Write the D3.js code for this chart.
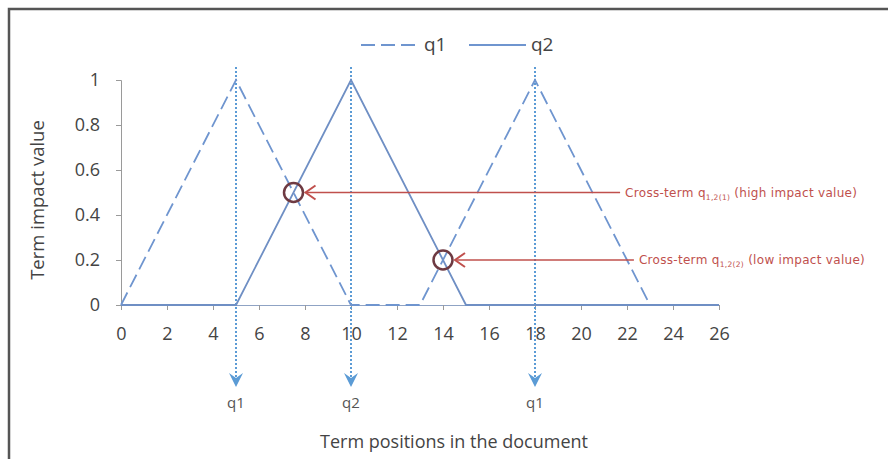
<!DOCTYPE html>
<html>
<head>
<meta charset="utf-8">
<script src="https://cdn.jsdelivr.net/npm/d3@7"></script>
<style>
  body { margin: 0; background: #fff; }
  svg { display: block; font-family: "Open Sans", sans-serif; }
</style>
</head>
<body>
<div id="chart"></div>
<script>
// data
var q1X = [0, 5, 10, 13, 18, 23];
var q1Y = [0, 1, 0, 0, 1, 0];
var q2X = [0, 5, 10, 15, 26];
var q2Y = [0, 0, 1, 0, 0];
var markerPos = [5, 10, 18];
var markerLabels = ["q1", "q2", "q1"];
var crossX = [7.5, 14];
var crossY = [0.5, 0.2];
var crossSub = ["1,2(1)", "1,2(2)"];
var crossNote = ["(high impact value)", "(low impact value)"];
var crossEnd = [21.7, 22.3];
var xTicks = d3.range(0, 27, 2);
var yTicks = [0, 0.2, 0.4, 0.6, 0.8, 1];

var W = 888, H = 459;
var margin = {top: 80, left: 121};
var width = 598, height = 225;
var txt = "#444";

var svg = d3.select("#chart").append("svg")
    .attr("width", W)
    .attr("height", H);

svg.append("rect")
    .attr("x", 9).attr("y", 9)
    .attr("width", 900).attr("height", 480)
    .attr("fill", "#fff")
    .attr("stroke", "#555")
    .attr("stroke-width", 2.5);

var g = svg.append("g")
    .attr("transform", "translate(" + margin.left + "," + margin.top + ")");

var x = d3.scaleLinear().domain([0, 26]).range([0, width]);
var y = d3.scaleLinear().domain([0, 1]).range([height, 0]);

// axes
var yAxis = g.append("g")
    .call(d3.axisLeft(y).tickValues(yTicks).tickSize(5).tickPadding(16)
        .tickFormat(function(d) { return String(+d.toFixed(1)); }));
yAxis.select(".domain").attr("stroke", "#9a9a9a");
yAxis.selectAll(".tick line").attr("stroke", "#9a9a9a");
yAxis.selectAll("text").attr("font-size", 18).attr("fill", txt)
    .attr("font-family", "'Open Sans', sans-serif");

var xAxis = g.append("g")
    .attr("transform", "translate(0," + height + ")")
    .call(d3.axisBottom(x).tickValues(xTicks).tickSize(5).tickPadding(17));
xAxis.select(".domain").attr("stroke", "#8fa3c4");
xAxis.selectAll(".tick line").attr("stroke", "#9a9a9a");
xAxis.selectAll("text").attr("font-size", 18).attr("fill", txt)
    .attr("font-family", "'Open Sans', sans-serif");

// dotted markers
markerPos.forEach(function(p, i) {
    g.append("line")
        .attr("x1", x(p)).attr("x2", x(p))
        .attr("y1", -13).attr("y2", 302)
        .attr("stroke", "#5b9bd5")
        .attr("stroke-width", 2)
        .attr("stroke-dasharray", "2,2");
    g.append("path")
        .attr("d", "M" + (x(p) - 7) + ",293 L" + x(p) + ",307 L" + (x(p) + 7) + ",293 L" + x(p) + ",298 Z")
        .attr("fill", "#5b9bd5");
    g.append("text")
        .attr("x", x(p)).attr("y", 328)
        .attr("text-anchor", "middle")
        .attr("font-size", 15)
        .attr("fill", "#555")
        .text(markerLabels[i]);
});

var line = d3.line()
    .x(function(d) { return x(d[0]); })
    .y(function(d) { return y(d[1]); });

g.append("path")
    .datum(d3.zip(q2X, q2Y))
    .attr("d", line)
    .attr("fill", "none")
    .attr("stroke", "#6f8fc4")
    .attr("stroke-width", 1.8);

g.append("path")
    .datum(d3.zip(q1X, q1Y))
    .attr("d", line)
    .attr("fill", "none")
    .attr("stroke", "#6f95cf")
    .attr("stroke-width", 1.8)
    .attr("stroke-dasharray", "14,6");

// cross-term annotations
crossX.forEach(function(cx, i) {
    var px = x(cx), py = y(crossY[i]);
    g.append("circle")
        .attr("cx", px).attr("cy", py).attr("r", 9.5)
        .attr("fill", "none")
        .attr("stroke", "#6e3a42")
        .attr("stroke-width", 2.5);
    var ex = x(crossEnd[i]);
    g.append("line")
        .attr("x1", px + 12).attr("x2", ex)
        .attr("y1", py).attr("y2", py)
        .attr("stroke", "#c0504d")
        .attr("stroke-width", 1.5);
    g.append("path")
        .attr("d", "M" + (px + 22) + "," + (py - 7) + " L" + (px + 12) + "," + py + " L" + (px + 22) + "," + (py + 7))
        .attr("fill", "none")
        .attr("stroke", "#c0504d")
        .attr("stroke-width", 2);
    var t = g.append("text")
        .attr("x", ex + 5).attr("y", py + 4)
        .attr("font-size", 12)
        .attr("font-family", "'DejaVu Sans', sans-serif")
        .attr("fill", "#c0504d")
        .attr("letter-spacing", 0.3);
    t.append("tspan").text("Cross-term q");
    t.append("tspan").attr("font-size", 7.5).attr("dy", 3).text(crossSub[i]);
    t.append("tspan").attr("dy", -3).text(" " + crossNote[i]);
});

// legend
var leg = svg.append("g").attr("transform", "translate(0,45)");
leg.append("line").attr("x1", 361).attr("x2", 420).attr("y1", 0).attr("y2", 0)
    .attr("stroke", "#6f95cf").attr("stroke-width", 2).attr("stroke-dasharray", "14,6");
leg.append("text").attr("x", 424).attr("y", 6).attr("font-size", 19).attr("fill", txt).text("q1");
leg.append("line").attr("x1", 469).attr("x2", 526).attr("y1", 0).attr("y2", 0)
    .attr("stroke", "#6f95cf").attr("stroke-width", 2);
leg.append("text").attr("x", 531).attr("y", 6).attr("font-size", 19).attr("fill", txt).text("q2");

// axis titles
svg.append("text")
    .attr("transform", "translate(38,200) rotate(-90)")
    .attr("dy", "0.35em")
    .attr("text-anchor", "middle")
    .attr("font-size", 18.5)
    .attr("fill", txt)
    .text("Term impact value");

svg.append("text")
    .attr("x", 454).attr("y", 448)
    .attr("text-anchor", "middle")
    .attr("font-size", 18)
    .attr("fill", txt)
    .text("Term positions in the document");
</script>
</body>
</html>
